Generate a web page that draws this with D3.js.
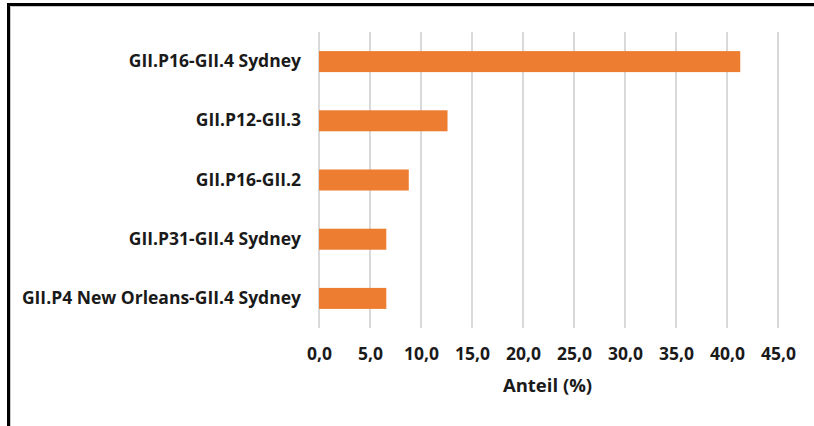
<!DOCTYPE html>
<html>
<head>
<meta charset="utf-8">
<script src="https://cdn.jsdelivr.net/npm/d3@7"></script>
<style>
  html, body { margin: 0; padding: 0; background: #fff; }
  svg { display: block; }
  text { font-family: "Open Sans", "DejaVu Sans", sans-serif; font-weight: bold; fill: #1a1a1a; }
</style>
</head>
<body>
<svg id="chart" width="814" height="426"></svg>
<script>
// Genotype combinations and their share (%)
const categories = [
  "GII.P16-GII.4 Sydney",
  "GII.P12-GII.3",
  "GII.P16-GII.2",
  "GII.P31-GII.4 Sydney",
  "GII.P4 New Orleans-GII.4 Sydney"
];
const shares = [41.3, 12.6, 8.8, 6.6, 6.6];
const xTicks = [0, 5, 10, 15, 20, 25, 30, 35, 40, 45];
const xTitle = "Anteil (%)";

const svg = d3.select("#chart");
const W = 814, H = 426;
const plot = { left: 319, right: 778, top: 32, bottom: 328 };

// Frame: heavy black line along top and left
svg.append("rect").attr("x", 0).attr("y", 0).attr("width", W).attr("height", H).attr("fill", "#fff");
svg.append("line").attr("x1", 7).attr("x2", W).attr("y1", 4.5).attr("y2", 4.5)
  .attr("stroke", "#000").attr("stroke-width", 3);
svg.append("line").attr("x1", 8.5).attr("x2", 8.5).attr("y1", 3).attr("y2", H)
  .attr("stroke", "#000").attr("stroke-width", 3);
svg.append("line").attr("x1", 10).attr("x2", W).attr("y1", 6.5).attr("y2", 6.5)
  .attr("stroke", "#c8c8c8").attr("stroke-width", 1);
svg.append("line").attr("x1", 10.5).attr("x2", 10.5).attr("y1", 6).attr("y2", H)
  .attr("stroke", "#c8c8c8").attr("stroke-width", 1);

const x = d3.scaleLinear().domain([0, 45]).range([plot.left, plot.right]);
const y = d3.scaleBand().domain(categories).range([plot.top, plot.bottom]).paddingInner(0.645).paddingOuter(0.3225);

// Vertical gridlines
svg.append("g")
  .selectAll("line")
  .data(xTicks)
  .join("line")
  .attr("x1", d => x(d)).attr("x2", d => x(d))
  .attr("y1", plot.top).attr("y2", plot.bottom)
  .attr("stroke", "#d9d9d9").attr("stroke-width", 2);

// Bars
svg.append("g")
  .selectAll("rect")
  .data(categories)
  .join("rect")
  .attr("x", x(0))
  .attr("y", d => y(d))
  .attr("width", (d, i) => x(shares[i]) - x(0))
  .attr("height", y.bandwidth())
  .attr("fill", "#ed7d31");

// X axis tick labels
const xAxis = d3.axisBottom(x)
  .tickValues(xTicks)
  .tickSize(0)
  .tickPadding(0)
  .tickFormat(d => d3.format(".1f")(d).replace(".", ","));
const gx = svg.append("g").attr("transform", `translate(0, 360)`).call(xAxis);
gx.select(".domain").remove();
gx.selectAll("text").attr("font-size", 17.5).attr("dy", 0).attr("y", 0)
  .style("font-family", null).attr("fill", "#1a1a1a");

// Y axis category labels
const yAxis = d3.axisLeft(y).tickSize(0).tickPadding(0);
const gy = svg.append("g").attr("transform", `translate(301, 0)`).call(yAxis);
gy.select(".domain").remove();
gy.selectAll("text").attr("font-size", 17.5).style("font-family", null).attr("fill", "#1a1a1a");

// Axis title
svg.append("text")
  .attr("x", (plot.left + plot.right) / 2 - 1)
  .attr("y", 392)
  .attr("text-anchor", "middle")
  .attr("font-size", 18.5)
  .text(xTitle);
</script>
</body>
</html>
